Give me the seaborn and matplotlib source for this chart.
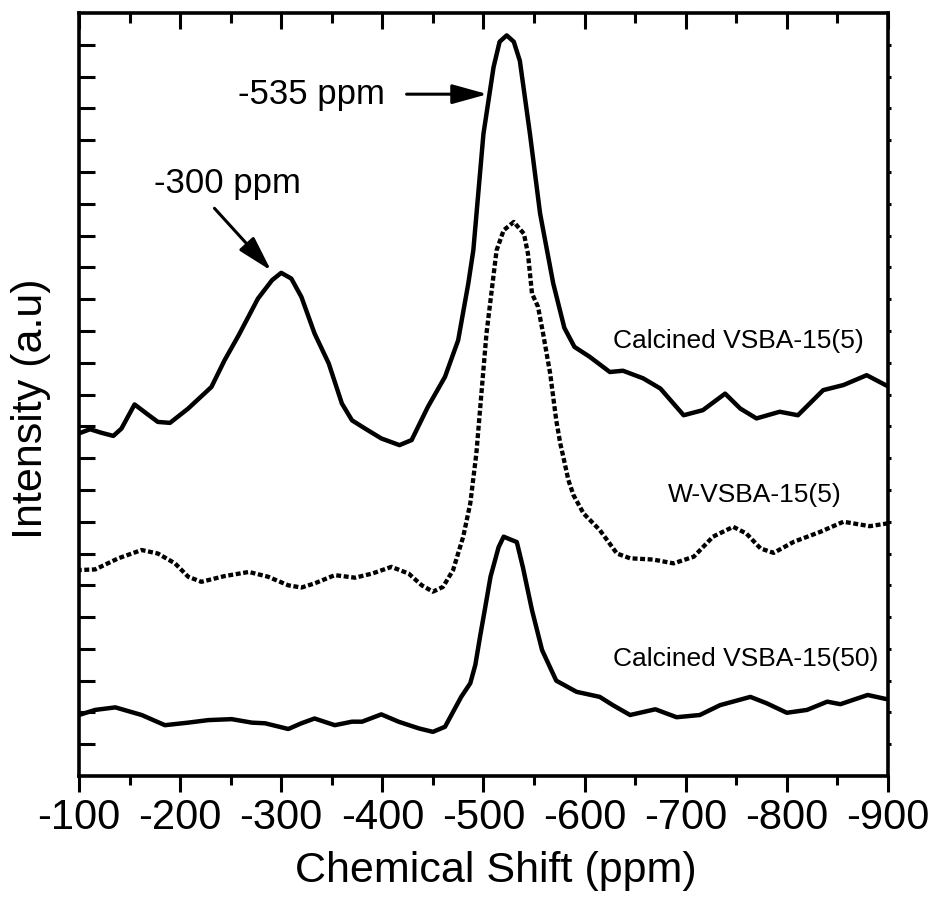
import matplotlib
matplotlib.use("Agg")
import matplotlib.pyplot as plt
import seaborn as sns

# Calcined VSBA-15(5), top solid trace
shift_a = [-100, -111, -122, -134, -142, -155, -167, -178, -190, -208,
           -231, -244, -258, -277, -291, -300, -310, -320, -333, -347,
           -360, -370, -383, -399, -417, -429, -445, -462, -475, -485,
           -490, -500, -510, -516, -523, -530, -536, -546, -556, -569,
           -580, -590, -605, -625, -638, -658, -675, -698, -717, -739,
           -754, -770, -793, -811, -836, -856, -879, -900]
int_a = [10.78, 10.91, 10.8, 10.7, 10.93, 11.69, 11.4, 11.14, 11.11, 11.56,
         12.24, 13.08, 13.87, 15.02, 15.6, 15.83, 15.65, 15.07, 13.92, 12.98,
         11.72, 11.19, 10.93, 10.62, 10.41, 10.57, 11.61, 12.56, 13.71, 15.49,
         16.54, 20.2, 22.3, 23.1, 23.3, 23.1, 22.5, 20.2, 17.7, 15.5,
         14.1, 13.5, 13.19, 12.71, 12.75, 12.51, 12.19, 11.35, 11.51, 12.03,
         11.56, 11.25, 11.46, 11.35, 12.14, 12.3, 12.61, 12.26]

# W-VSBA-15(5), dotted trace
shift_b = [-100, -116, -139, -162, -178, -195, -208, -221, -244, -268,
           -287, -307, -320, -333, -353, -373, -390, -409, -426, -439,
           -450, -460, -470, -480, -487, -493, -503, -513, -520, -530,
           -540, -544, -548, -554, -559, -566, -572, -576, -579, -584,
           -589, -599, -615, -632, -645, -668, -688, -708, -727, -747,
           -760, -774, -787, -807, -833, -856, -882, -900]
int_b = [6.48, 6.5, 6.85, 7.11, 7.0, 6.69, 6.27, 6.11, 6.29, 6.42,
         6.27, 6.0, 5.93, 6.06, 6.32, 6.24, 6.37, 6.58, 6.37, 6.0,
         5.8, 5.95, 6.48, 7.53, 8.58, 10.15, 13.92, 16.54, 17.17, 17.43,
         17.06, 16.44, 15.18, 14.76, 13.92, 12.66, 11.19, 10.46, 10.04, 9.31,
         8.84, 8.26, 7.74, 7.0, 6.85, 6.81, 6.69, 6.9, 7.53, 7.84,
         7.63, 7.16, 7.02, 7.37, 7.68, 8.0, 7.86, 7.95]

# Calcined VSBA-15(50), bottom solid trace
shift_c = [-100, -116, -136, -162, -185, -208, -228, -251, -271, -284,
           -307, -320, -333, -353, -370, -380, -399, -416, -436, -450,
           -462, -478, -487, -492, -497, -502, -507, -515, -520, -526,
           -533, -539, -548, -558, -572, -592, -615, -628, -645, -670,
           -691, -714, -734, -764, -780, -800, -820, -840, -853, -880, -900]
int_c = [1.92, 2.08, 2.16, 1.92, 1.6, 1.68, 1.76, 1.79, 1.68, 1.66,
         1.48, 1.66, 1.81, 1.6, 1.71, 1.71, 1.94, 1.71, 1.5, 1.39,
         1.55, 2.49, 2.92, 3.5, 4.45, 5.35, 6.27, 7.2, 7.53, 7.45,
         7.36, 6.57, 5.22, 3.96, 3.0, 2.65, 2.49, 2.23, 1.92, 2.1,
         1.85, 1.92, 2.23, 2.49, 2.29, 1.99, 2.08, 2.34, 2.26, 2.55, 2.41]

x_ticks = [-100, -200, -300, -400, -500, -600, -700, -800, -900]

sns.set_theme(style="white")
plt.rcParams["font.family"] = ["Liberation Sans", "DejaVu Sans"]
plt.rcParams["text.color"] = "black"
plt.rcParams["axes.labelcolor"] = "black"
plt.rcParams["xtick.color"] = "black"
plt.rcParams["ytick.color"] = "black"

fig = plt.figure(figsize=(9.4, 9.05), dpi=100)
ax = fig.add_axes([0.084, 0.1425, 0.8606, 0.843])

sns.lineplot(x=shift_a, y=int_a, ax=ax, color="black", linewidth=3.2,
             solid_joinstyle="round")
sns.lineplot(x=shift_b, y=int_b, ax=ax, color="black", linewidth=3.1,
             linestyle=(0, (1.15, 0.6)), dash_capstyle="butt")
sns.lineplot(x=shift_c, y=int_c, ax=ax, color="black", linewidth=3.2,
             solid_joinstyle="round")

ax.set_xlim(-100, -900)
ax.set_ylim(0, 24)
ax.set_xticks(x_ticks)
ax.set_xticklabels([str(t) for t in x_ticks])
ax.set_xticks(range(-150, -900, -100), minor=True)
ax.set_yticks(range(1, 24))
ax.set_yticklabels([])

for s in ax.spines.values():
    s.set_linewidth(2.6)
    s.set_color("black")

ax.tick_params(axis="x", which="major", direction="out", length=11.5, width=2.2,
               labelsize=30, pad=4, bottom=True, top=False)
ax.tick_params(axis="x", which="minor", direction="out", length=6.5, width=2.2,
               bottom=True, top=False)
ax.tick_params(axis="y", which="major", direction="in", length=11.5, width=2.2,
               left=True, right=False)

top = ax.secondary_xaxis("top")
top.set_xticks(x_ticks)
top.set_xticks(range(-150, -900, -100), minor=True)
top.set_xticklabels([])
top.tick_params(which="major", direction="in", length=11.5, width=2.2)
top.tick_params(which="minor", direction="in", length=7, width=2.2)
top.spines["top"].set_visible(False)

right = ax.secondary_yaxis("right")
right.set_yticks(range(1, 24))
right.set_yticklabels([])
right.tick_params(which="major", direction="out", length=2, width=2.2)
right.spines["right"].set_visible(False)

ax.set_xlabel("Chemical Shift (ppm)", fontsize=31)
ax.set_ylabel("Intensity (a.u)", fontsize=31)
ax.xaxis.set_label_coords(0.515, -0.098)
ax.yaxis.set_label_coords(-0.034, 0.482)

# peak annotations
head = "-|>,head_length=1.8,head_width=0.5"
ax.text(-330, 21.45, "-535 ppm", fontsize=25, ha="center", va="center")
ax.annotate("", xy=(-504, 21.45), xytext=(-424, 21.45),
            arrowprops=dict(arrowstyle=head, color="black", lw=2.2,
                            shrinkA=0, shrinkB=0))
ax.text(-247, 18.65, "-300 ppm", fontsize=25, ha="center", va="center")
ax.annotate("", xy=(-290, 15.9), xytext=(-234, 17.86),
            arrowprops=dict(arrowstyle=head, color="black", lw=2.2,
                            shrinkA=0, shrinkB=0))

ax.text(-628, 13.68, "Calcined VSBA-15(5)", fontsize=19, ha="left", va="center")
ax.text(-682, 8.84, "W-VSBA-15(5)", fontsize=19, ha="left", va="center")
ax.text(-628, 3.68, "Calcined VSBA-15(50)", fontsize=19, ha="left", va="center")

fig.savefig("out.png", dpi=100)
